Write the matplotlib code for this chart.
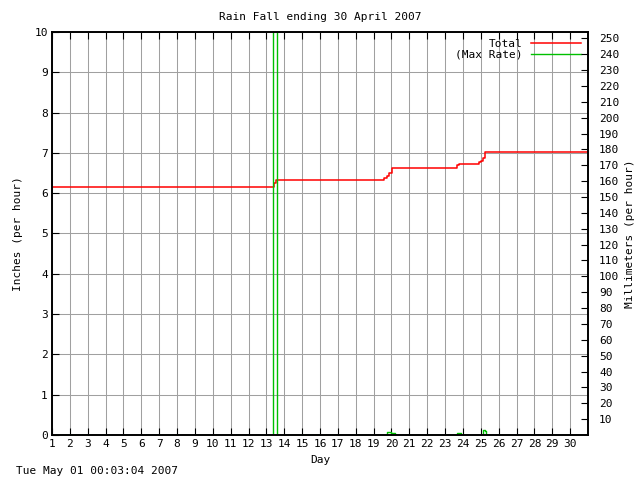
import matplotlib
matplotlib.use("Agg")
import matplotlib.pyplot as plt

# Total rainfall (inches), step changes by day
total_day = [1, 13.43, 13.55, 19.59, 19.76, 19.87, 20.04, 23.68, 23.79, 24.91, 25.02, 25.13, 25.24, 31]
total_in = [6.15, 6.26, 6.33, 6.38, 6.43, 6.49, 6.62, 6.69, 6.72, 6.77, 6.81, 6.87, 7.03, 7.03]

# Max rain rate (inches per hour)
rate_day = [1, 13.37, 13.60, 19.76, 20.00, 20.20, 23.68, 23.90, 25.13, 25.22, 25.30, 31]
rate_in = [0, 40.0, 0, 0.08, 0.05, 0, 0.05, 0, 0.13, 0.09, 0, 0]

days = list(range(1, 31))
inch_ticks = list(range(0, 11))
mm_ticks = list(range(10, 251, 10))

plt.rcParams['font.family'] = 'DejaVu Sans Mono'
plt.rcParams['font.size'] = 8

fig = plt.figure(figsize=(6.4, 4.8), dpi=100)
ax = fig.add_axes([52 / 640, 1 - 435 / 480, (588 - 52) / 640, (435 - 32) / 480])

ax.plot(total_day, total_in, drawstyle='steps-post', color='#ff0000', lw=1.1, label='Total')
ax.plot(rate_day, rate_in, drawstyle='steps-post', color='#00c000', lw=1.0, label='(Max Rate)')

ax.set_xlim(1, 31)
ax.set_ylim(0, 10)
ax.set_xticks(days)
ax.set_yticks(inch_ticks)
ax.grid(True, color='#a0a0a0', lw=0.75)
ax.set_axisbelow(True)
ax.tick_params(direction='in', top=True, right=False, length=5, width=0.8, pad=3)
for s in ax.spines.values():
    s.set_linewidth(1.2)
    s.set_zorder(5)

ax2 = ax.twinx()
ax2.set_ylim(0, 254)
ax2.set_yticks(mm_ticks)
ax2.tick_params(direction='in', length=5, width=0.8, pad=8)
for s in ax2.spines.values():
    s.set_linewidth(1.2)

ax.set_xlabel('Day', labelpad=4)
ax.set_ylabel('Inches (per hour)', labelpad=8)
ax2.set_ylabel('Millimeters (per hour)', labelpad=4)
ax.set_title('Rain Fall ending 30 April 2007', fontsize=8, pad=9)

leg = ax.legend(loc='upper right', frameon=False, markerfirst=False, handlelength=4.5,
                borderaxespad=0.2, labelspacing=0.1, handletextpad=0.8)
for t in leg.get_texts():
    t.set_ha('right')

fig.text(16 / 640, 1 - 471 / 480, 'Tue May 01 00:03:04 2007', va='center', ha='left')

fig.savefig('out.png', dpi=100)
